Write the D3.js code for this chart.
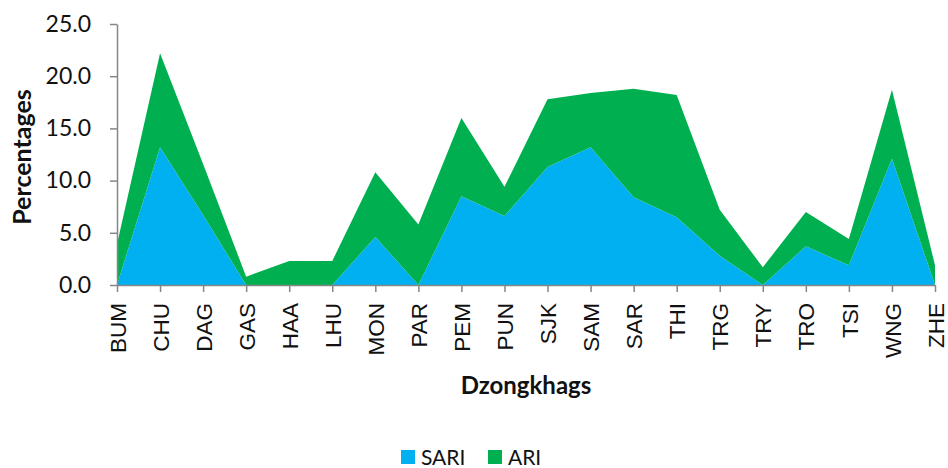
<!DOCTYPE html>
<html>
<head>
<meta charset="utf-8">
<script src="https://cdn.jsdelivr.net/npm/d3@7"></script>
<style>
  html, body { margin: 0; padding: 0; background: #fff; }
  svg { display: block; }
</style>
</head>
<body>
<svg id="container" width="948" height="468"></svg>
<script>
  // dzongkhag codes along the x axis
  const dzongkhags = ['BUM', 'CHU', 'DAG', 'GAS', 'HAA', 'LHU', 'MON', 'PAR', 'PEM', 'PUN',
    'SJK', 'SAM', 'SAR', 'THI', 'TRG', 'TRY', 'TRO', 'TSI', 'WNG', 'ZHE'];

  // percentages
  const sari = [0, 13.2, 6.7, 0, 0, 0, 4.6, 0, 8.5, 6.6, 11.3, 13.2, 8.4, 6.5, 2.8, 0, 3.7, 1.9, 12.1, 0];
  const ari = [3.9, 9.0, 4.9, 0.8, 2.3, 2.3, 6.2, 5.8, 7.5, 2.8, 6.5, 5.2, 10.4, 11.7, 4.4, 1.7, 3.3, 2.5, 6.6, 1.9];

  const yTicks = [0, 5, 10, 15, 20, 25];

  const seriesNames = ['SARI', 'ARI'];
  const seriesColors = ['#00B0F0', '#00B050'];

  (function (d3) {
    'use strict';

    const rows = dzongkhags.map((d, i) => ({ name: d, SARI: sari[i], ARI: ari[i] }));

    const svg = d3.select('#container');
    const plotLeft = 117, plotRight = 935, plotTop = 24, plotBottom = 285;

    const x = d3.scalePoint().domain(dzongkhags).range([plotLeft, plotRight]);
    const y = d3.scaleLinear().domain([0, 25]).range([plotBottom, plotTop]);
    const color = d3.scaleOrdinal().domain(seriesNames).range(seriesColors);

    const stacked = d3.stack().keys(seriesNames)(rows);

    const area = d3.area()
      .x((d) => x(d.data.name))
      .y0((d) => y(d[0]))
      .y1((d) => y(d[1]));

    svg.append('g')
      .selectAll('path')
      .data(stacked)
      .enter()
      .append('path')
      .attr('fill', (s) => color(s.key))
      .attr('d', area);

    // y axis
    const yAxis = svg.append('g')
      .attr('transform', `translate(${plotLeft},0)`)
      .call(d3.axisLeft(y).tickValues(yTicks).tickFormat(d3.format('.1f'))
        .tickSize(7).tickSizeOuter(0).tickPadding(19));
    yAxis.selectAll('text')
      .attr('font-family', 'Lato, sans-serif')
      .attr('font-size', 23)
      .attr('fill', '#111');

    // x axis, labels turned upright
    const xAxis = svg.append('g')
      .attr('transform', `translate(0,${plotBottom})`)
      .call(d3.axisBottom(x).tickSize(7).tickSizeOuter(0));
    xAxis.selectAll('text')
      .attr('font-family', '"Liberation Sans", Arial, sans-serif')
      .attr('font-size', 22.5)
      .attr('fill', '#111')
      .attr('transform', 'rotate(-90)')
      .attr('text-anchor', 'end')
      .attr('x', -18)
      .attr('y', 0)
      .attr('dy', '0.36em');

    svg.selectAll('.domain, .tick line')
      .attr('stroke', '#868686')
      .attr('stroke-width', 1.5);

    // axis titles
    svg.append('text')
      .attr('transform', 'translate(31,157) rotate(-90)')
      .attr('text-anchor', 'middle')
      .attr('font-family', 'Lato, sans-serif')
      .attr('font-weight', 'bold')
      .attr('font-size', 25)
      .attr('fill', '#111')
      .text('Percentages');

    svg.append('text')
      .attr('x', 526)
      .attr('y', 394)
      .attr('text-anchor', 'middle')
      .attr('font-family', 'Lato, sans-serif')
      .attr('font-weight', 'bold')
      .attr('font-size', 24)
      .attr('fill', '#111')
      .text('Dzongkhags');

    // legend
    const legendX = [401, 488];
    const legend = svg.append('g')
      .selectAll('g')
      .data(seriesNames)
      .enter()
      .append('g')
      .attr('transform', (d, i) => `translate(${legendX[i]},450)`);
    legend.append('rect')
      .attr('width', 14)
      .attr('height', 14)
      .attr('fill', (d) => color(d));
    legend.append('text')
      .attr('x', 20)
      .attr('y', 15)
      .attr('font-family', 'Lato, sans-serif')
      .attr('font-size', 21)
      .attr('fill', '#111')
      .text((d) => d);
  }(d3));
</script>
</body>
</html>
